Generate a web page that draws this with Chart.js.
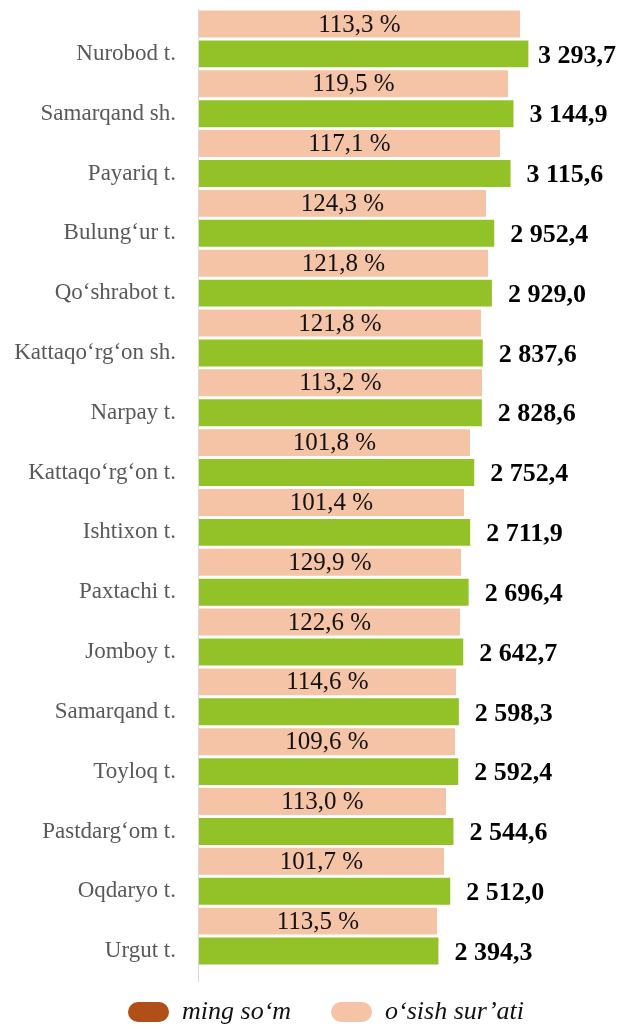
<!DOCTYPE html>
<html>
<head>
<meta charset="utf-8">
<title>ming so‘m</title>
<script src="https://cdn.jsdelivr.net/npm/chart.js@4/dist/chart.umd.min.js"></script>
<style>
  html, body { margin: 0; padding: 0; background: #fff; }
  #wrap { width: 620px; height: 1028px; position: relative; }
</style>
</head>
<body>
<div id="wrap"><canvas id="chart"></canvas></div>
<script>
const districts = ['Nurobod t.', 'Samarqand sh.', 'Payariq t.', 'Bulung‘ur t.', 'Qo‘shrabot t.', 'Kattaqo‘rg‘on sh.', 'Narpay t.', 'Kattaqo‘rg‘on t.', 'Ishtixon t.', 'Paxtachi t.', 'Jomboy t.', 'Samarqand t.', 'Toyloq t.', 'Pastdarg‘om t.', 'Oqdaryo t.', 'Urgut t.'];
const mingSom = [3293.7, 3144.9, 3115.6, 2952.4, 2929.0, 2837.6, 2828.6, 2752.4, 2711.9, 2696.4, 2642.7, 2598.3, 2592.4, 2544.6, 2512.0, 2394.3];
const growthRate = [113.3, 119.5, 117.1, 124.3, 121.8, 121.8, 113.2, 101.8, 101.4, 129.9, 122.6, 114.6, 109.6, 113.0, 101.7, 113.5];
// length of the peach bars as drawn in the picture
const growthBar = [3210, 3090, 3010, 2870, 2890, 2820, 2830, 2710, 2650, 2620, 2610, 2570, 2560, 2470, 2450, 2380];

const serif = "'Liberation Serif', 'Times New Roman', serif";
const green = '#92c227';
const peach = '#f5c3a5';
const brown = '#b04f17';

function fmtNum(v) {
  const parts = v.toFixed(1).split('.');
  return parts[0].replace(/\B(?=(\d{3})+(?!\d))/g, ' ') + ',' + parts[1];
}

const axisLine = {
  id: 'axisLine',
  beforeDatasetsDraw(chart) {
    const ctx = chart.ctx;
    const x = Math.round(chart.scales.x.getPixelForValue(0)) - 0.5;
    ctx.save();
    ctx.strokeStyle = '#d9d9d9';
    ctx.lineWidth = 1;
    ctx.beginPath();
    ctx.moveTo(x, chart.chartArea.top);
    ctx.lineTo(x, chart.chartArea.bottom + 16);
    ctx.stroke();
    ctx.restore();
  }
};

// nudge the legend a little right and up, like in the picture
const legendPlace = {
  id: 'legendPlace',
  afterLayout(chart) {
    chart.legend.left = 32;
    chart.legend.top = 959;
  }
};

const barLabels = {
  id: 'barLabels',
  afterDatasetsDraw(chart) {
    const ctx = chart.ctx;
    ctx.save();
    ctx.textBaseline = 'middle';
    ctx.font = '25px ' + serif;
    ctx.fillStyle = '#111';
    ctx.textAlign = 'center';
    chart.getDatasetMeta(0).data.forEach((bar, i) => {
      ctx.fillText(fmtNum(growthRate[i]) + ' %', (bar.base + bar.x) / 2, bar.y + 1);
    });
    ctx.font = 'bold 26px ' + serif;
    ctx.fillStyle = '#000';
    ctx.textAlign = 'left';
    chart.getDatasetMeta(1).data.forEach((bar, i) => {
      const txt = fmtNum(mingSom[i]);
      const w = ctx.measureText(txt).width;
      const x = Math.min(bar.x + 16, chart.width - 4 - w);
      ctx.fillText(txt, x, bar.y + 2);
    });
    ctx.restore();
  }
};

new Chart(document.getElementById('chart'), {
  type: 'bar',
  data: {
    labels: districts,
    datasets: [{
      label: 'o‘sish sur’ati',
      data: growthBar,
      backgroundColor: peach,
      barPercentage: 0.9,
      categoryPercentage: 1
    }, {
      label: 'ming so‘m',
      data: mingSom,
      backgroundColor: green,
      barPercentage: 0.9,
      categoryPercentage: 1
    }]
  },
  options: {
    indexAxis: 'y',
    responsive: true,
    maintainAspectRatio: false,
    animation: false,
    layout: { padding: { top: 9, left: 0, right: 0, bottom: 0 } },
    scales: {
      x: { display: false, min: 0, max: 4210 },
      y: {
        grid: { display: false, drawTicks: false },
        border: { display: false },
        ticks: {
          autoSkip: false,
          padding: 23,
          labelOffset: 15,
          color: '#595959',
          font: { family: serif, size: 23 }
        },
        afterFit(scale) {
          scale.width = 199;
          scale.paddingTop = 0;
          scale.paddingBottom = 0;
        }
      }
    },
    plugins: {
      tooltip: { enabled: false },
      legend: {
        position: 'bottom',
        reverse: true,
        maxHeight: 62,
        labels: {
          boxWidth: 41,
          boxHeight: 20,
          useBorderRadius: true,
          borderRadius: 10,
          padding: 40,
          color: '#111',
          font: { family: serif, size: 26, style: 'italic' },
          generateLabels(chart) {
            const items = Chart.defaults.plugins.legend.labels.generateLabels(chart);
            items.forEach(it => {
              it.lineWidth = 0;
              it.strokeStyle = 'transparent';
              if (it.datasetIndex === 1) it.fillStyle = brown;
            });
            return items;
          }
        }
      }
    }
  },
  plugins: [axisLine, barLabels, legendPlace]
});
</script>
</body>
</html>
